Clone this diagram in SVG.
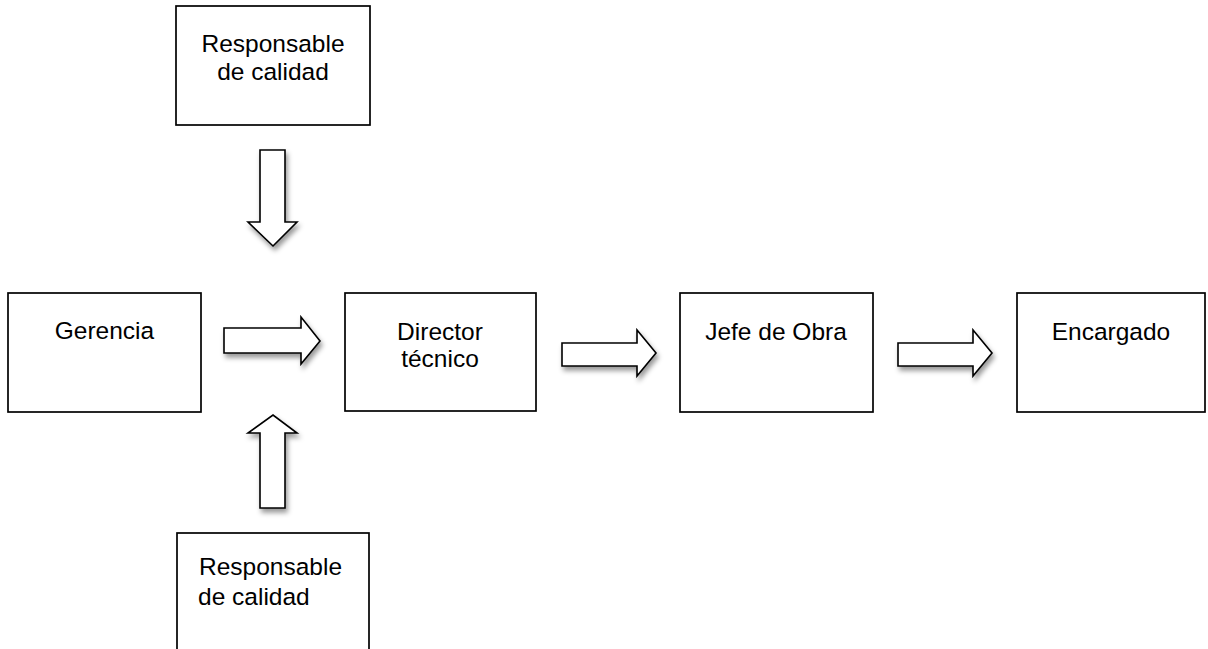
<svg xmlns="http://www.w3.org/2000/svg" width="1208" height="649" viewBox="0 0 1208 649">
<style>
.box{fill:#fff;stroke:#000;stroke-width:1.7}
.arr{fill:#fff;stroke:#000;stroke-width:1.6;stroke-linejoin:miter;filter:url(#sh)}
text{font-family:"Liberation Sans",Arial,sans-serif;font-size:24.5px;fill:#000}
.c{text-anchor:middle}
</style>
<defs>
<filter id="sh" x="-30%" y="-30%" width="160%" height="160%">
<feDropShadow dx="2" dy="4" stdDeviation="2.5" flood-color="#000" flood-opacity="0.4"/>
</filter>
</defs>
<rect width="1208" height="649" fill="#fff"/>
<g id="connectors">
<path class="arr" d="M260,150 H285 V222 H297 L273,246 L248,222 H260 Z"/>
<path class="arr" d="M224,328 H301 V317 L320,341 L301,364 V353 H224 Z"/>
<path class="arr" d="M260,508 H285 V433 H297 L273,415 L248,433 H260 Z"/>
<path class="arr" d="M562,343 H637 V330 L656,353 L637,376 V366 H562 Z"/>
<path class="arr" d="M898,343 H973 V330 L992,353 L973,376 V366 H898 Z"/>
</g>
<g id="resp-top">
<rect class="box" x="176" y="6" width="194" height="119"/>
<text class="c" x="273" y="52">Responsable</text>
<text class="c" x="273" y="80">de calidad</text>
</g>
<g id="gerencia">
<rect class="box" x="8" y="293" width="193" height="119"/>
<text class="c" x="104.5" y="339">Gerencia</text>
</g>
<g id="director">
<rect class="box" x="345" y="293" width="191" height="118"/>
<text class="c" x="440" y="340">Director</text>
<text class="c" x="440" y="367">técnico</text>
</g>
<g id="jefe">
<rect class="box" x="680" y="293" width="193" height="119"/>
<text class="c" x="776" y="340">Jefe de Obra</text>
</g>
<g id="encargado">
<rect class="box" x="1017" y="293" width="188" height="119"/>
<text class="c" x="1111" y="340">Encargado</text>
</g>
<g id="resp-bottom">
<rect class="box" x="177" y="533" width="192" height="130"/>
<text x="199" y="575">Responsable</text>
<text x="198" y="605">de calidad</text>
</g>
</svg>
